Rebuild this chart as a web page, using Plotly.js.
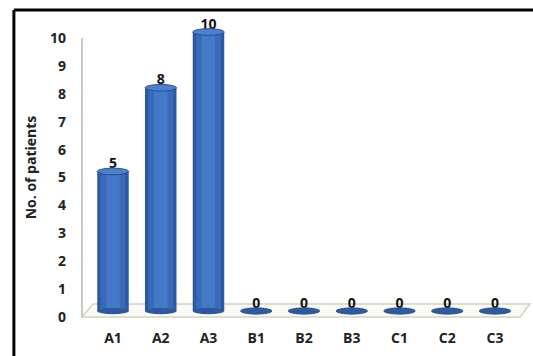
<!DOCTYPE html>
<html>
<head>
<meta charset="utf-8">
<script src="https://cdn.plot.ly/plotly-3.0.1.min.js"></script>
<style>html,body{margin:0;padding:0;background:#fff;}#chart{width:533px;height:356px;}</style>
</head>
<body>
<div id="chart"></div>
<script>
const categories = ['A1', 'A2', 'A3', 'B1', 'B2', 'B3', 'C1', 'C2', 'C3'];
const patients = [5, 8, 10, 0, 0, 0, 0, 0, 0];
const yTickValues = [0, 1, 2, 3, 4, 5, 6, 7, 8, 9, 10];
const yAxisTitle = 'No. of patients';

const FONT = '"Open Sans", "Noto Sans", sans-serif';
const idx = categories.map((c, i) => i);

const barLayers = [
  { width: 0.66, color: '#2D5A9E' },
  { width: 0.52, color: '#3A6BBA' },
  { width: 0.28, color: '#4678C8' }
];

const traces = barLayers.map(l => ({
  type: 'bar', x: idx, y: patients, width: l.width,
  marker: { color: l.color, line: { width: 0 } }, cliponaxis: false,
  xaxis: 'x', yaxis: 'y', hoverinfo: 'skip', showlegend: false
}));

traces.push({
  type: 'scatter', mode: 'text', x: idx, y: patients,
  text: patients.map(String), textposition: 'top center',
  textfont: { family: FONT, size: 14, color: '#111', weight: 'bold' },
  cliponaxis: false, xaxis: 'x', yaxis: 'y', hoverinfo: 'skip', showlegend: false
});

// tick axis (front plane) dummy trace
traces.push({
  type: 'scatter', mode: 'markers', x: [idx[0]], y: [0],
  marker: { opacity: 0 }, xaxis: 'x', yaxis: 'y2', hoverinfo: 'skip', showlegend: false
});

// plot area: x 82..530, y 18..317 (299 px)
const H = 299;
const py = p => (317 - p) / H;
const shapes = [];
// outer frame
shapes.push({ type: 'line', xref: 'paper', yref: 'paper', x0: -0.152, x1: 1.01, y0: py(10), y1: py(10), line: { color: '#000', width: 3 } });
shapes.push({ type: 'line', xref: 'paper', yref: 'paper', x0: -0.152, x1: -0.152, y0: py(10), y1: py(400), line: { color: '#000', width: 3 } });
// floor
shapes.push({ type: 'path', xref: 'paper', yref: 'paper', layer: 'below',
  path: 'M 0 0 L 0.9777 0 L 1.0 ' + py(304) + ' L 0.0246 ' + py(304) + ' Z',
  fillcolor: '#FBFBF8', line: { color: '#D8D2BC', width: 1.5 } });
// vertical axis line
shapes.push({ type: 'line', xref: 'paper', yref: 'paper', layer: 'below', x0: 0, x1: 0, y0: 0, y1: py(38), line: { color: '#C8C8C8', width: 2 } });

const halfW = barLayers[0].width / 2;
patients.forEach((v, i) => {
  shapes.push({ type: 'circle', xref: 'x', yref: 'y', x0: i - halfW, x1: i + halfW, y0: -0.12, y1: 0.12,
    fillcolor: '#2D5A9E', line: { width: 0 } });
  if (v > 0) {
    shapes.push({ type: 'circle', xref: 'x', yref: 'y', x0: i - halfW, x1: i + halfW, y0: v - 0.12, y1: v + 0.12,
      fillcolor: '#4C7FCC', line: { color: '#25508F', width: 1 } });
  } else {
    shapes.push({ type: 'circle', xref: 'x', yref: 'y', x0: i - halfW, x1: i + halfW, y0: v - 0.12, y1: v + 0.12,
      fillcolor: '#2F5A9C', line: { color: '#284F8C', width: 0.5 } });
  }
});

const layout = {
  width: 533, height: 356,
  margin: { l: 82, r: 3, t: 18, b: 39, pad: 0 },
  paper_bgcolor: '#fff', plot_bgcolor: 'rgba(0,0,0,0)',
  barmode: 'overlay', showlegend: false,
  font: { family: FONT, color: '#222' },
  xaxis: {
    range: [-0.649, 8.733], tickmode: 'array', tickvals: idx, ticktext: categories,
    showgrid: false, zeroline: false, showline: false, ticks: '',
    ticklabelstandoff: 11,
    tickfont: { family: FONT, size: 14, color: '#222', weight: 'bold' }
  },
  yaxis: {
    range: [-0.215, 10.502], showgrid: false, zeroline: false, showline: false,
    showticklabels: false, ticks: ''
  },
  yaxis2: {
    overlaying: 'y', side: 'left', range: [0, 10.717], tickmode: 'array', tickvals: yTickValues,
    showgrid: false, zeroline: false, showline: false, ticks: '',
    ticklabelstandoff: 15,
    tickfont: { family: FONT, size: 14, color: '#222', weight: 'bold' },
    title: { text: yAxisTitle, standoff: 10, font: { family: FONT, size: 14, color: '#222', weight: 'bold' } }
  },
  shapes: shapes
};

Plotly.newPlot('chart', traces, layout, { staticPlot: true, displayModeBar: false });
</script>
</body>
</html>
